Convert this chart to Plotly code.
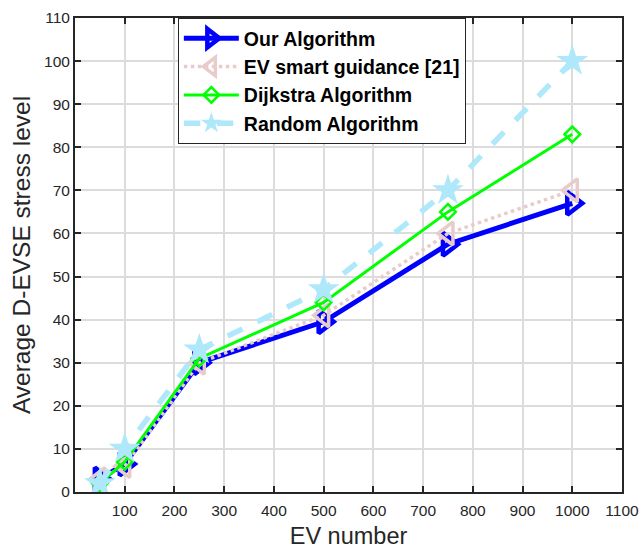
import plotly.graph_objects as go

ev_number = [50, 100, 250, 500, 750, 1000]
our_alg = [3, 6.5, 30, 39.5, 57.5, 67]
ev_smart = [3, 6, 30, 41, 60, 70]
dijkstra = [2, 7, 31, 44, 65, 83]
random_alg = [2, 10, 33, 47, 70, 100]

x_ticks = [100, 200, 300, 400, 500, 600, 700, 800, 900, 1000, 1100]
y_ticks = [0, 10, 20, 30, 40, 50, 60, 70, 80, 90, 100, 110]

fig = go.Figure()

fig.add_trace(go.Scatter(
    x=ev_number, y=our_alg, name="Our Algorithm", mode="lines+markers",
    line=dict(color="#0000ff", width=5),
    marker=dict(symbol="triangle-right-open", size=20, color="#0000ff", line=dict(width=4.5, color="#0000ff")),
))
fig.add_trace(go.Scatter(
    x=ev_number, y=ev_smart, name="EV smart guidance [21]", mode="lines+markers",
    line=dict(color="#e8cccc", width=3.5, dash="dot"),
    marker=dict(symbol="triangle-left-open", size=20, color="#e8cccc", line=dict(width=3.5, color="#e8cccc")),
))
fig.add_trace(go.Scatter(
    x=ev_number, y=dijkstra, name="Dijkstra Algorithm", mode="lines+markers",
    line=dict(color="#00ff00", width=3),
    marker=dict(symbol="diamond-open", size=12, color="#00ff00", line=dict(width=2.5, color="#00ff00")),
))
fig.add_trace(go.Scatter(
    x=ev_number, y=random_alg, name="Random Algorithm", mode="lines+markers",
    line=dict(color="#aee8fa", width=5.5, dash="dash"),
    marker=dict(symbol="star", size=24, color="#aee8fa", line=dict(width=0)),
))

fig.update_layout(
    width=642, height=549,
    margin=dict(l=75, r=20, t=18, b=57, autoexpand=False),
    plot_bgcolor="white", paper_bgcolor="white",
    font=dict(family="Liberation Sans, Arial, sans-serif", color="#262626"),
    legend=dict(
        x=0.188, y=1.0, xanchor="left", yanchor="top",
        bgcolor="white", bordercolor="#262626", borderwidth=1,
        font=dict(size=19.5, color="black", weight="bold"),
        itemwidth=55, tracegroupgap=0,
        traceorder="normal",
    ),
)

fig.update_xaxes(
    range=[0, 1100], tickvals=x_ticks, automargin=False,
    showgrid=True, gridcolor="#dcdcdc", gridwidth=1.5,
    showline=True, linecolor="#262626", linewidth=2, mirror="allticks",
    ticks="inside", ticklen=6, tickwidth=2, tickcolor="#262626",
    tickfont=dict(size=15.5), zeroline=False, ticklabelstandoff=3,
    title=dict(text="EV number", font=dict(size=23.5), standoff=14),
)
fig.update_yaxes(
    range=[0, 110], tickvals=y_ticks, automargin=False,
    showgrid=True, gridcolor="#dcdcdc", gridwidth=1.5,
    showline=True, linecolor="#262626", linewidth=2, mirror="allticks",
    ticks="inside", ticklen=6, tickwidth=2, tickcolor="#262626",
    tickfont=dict(size=15.5), zeroline=False,
    title=dict(text="Average D-EVSE stress level", font=dict(size=24.5), standoff=6),
)

fig.write_html("out.html")
